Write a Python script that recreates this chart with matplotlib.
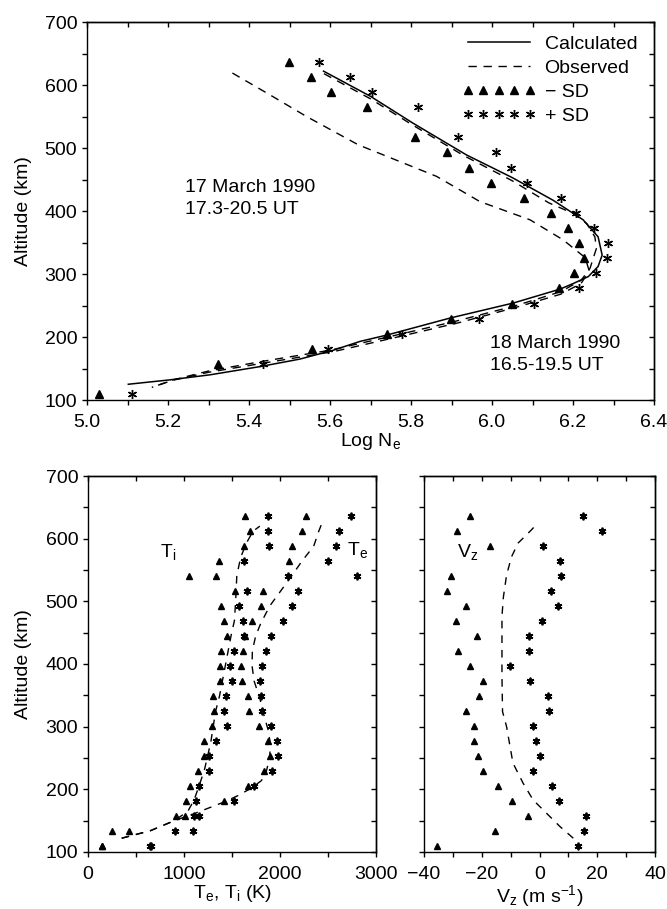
import numpy as np
import matplotlib
matplotlib.use("Agg")
import matplotlib.pyplot as plt
from matplotlib.ticker import MultipleLocator, FormatStrFormatter
from matplotlib.legend_handler import HandlerLine2D

plt.rcParams['font.family'] = ['Liberation Sans', 'DejaVu Sans']
plt.rcParams['font.size'] = 14
plt.rcParams['mathtext.fontset'] = 'custom'
plt.rcParams['mathtext.rm'] = 'Liberation Sans'
plt.rcParams['mathtext.it'] = 'Liberation Sans:italic'
plt.rcParams['axes.linewidth'] = 1.0

# ---------------- Top panel data (Log Ne vs altitude) ----------------
sd_alt_top = [110, 157, 181, 205, 229, 253, 277, 301, 325, 349, 373, 397,
              421, 445, 469, 493, 517, 565, 589, 613, 637]
ne_minus = [5.029, 5.323, 5.556, 5.741, 5.898, 6.050, 6.166, 6.202, 6.228,
            6.215, 6.188, 6.146, 6.078, 5.998, 5.942, 5.889, 5.811, 5.691,
            5.603, 5.554, 5.499]
ne_plus = [5.110, 5.434, 5.596, 5.777, 5.968, 6.104, 6.216, 6.258, 6.283,
           6.287, 6.252, 6.207, 6.170, 6.087, 6.047, 6.011, 5.917, 5.818,
           5.703, 5.649, 5.574]

calc_ne = [5.584, 5.700, 5.806, 5.937, 6.050, 6.151, 6.225, 6.262, 6.272,
           6.262, 6.238, 6.201, 6.168, 6.053, 5.896, 5.740, 5.674, 5.608,
           5.526, 5.427, 5.304, 5.205, 5.102]
calc_alt = [622, 582, 539, 489, 453, 417, 386, 359, 330, 312, 296, 285, 276,
            254, 230, 203, 193, 179, 165, 153, 140, 132, 125]

obs18_ne = [5.585, 5.700, 5.800, 5.930, 6.050, 6.140, 6.201, 6.234, 6.254,
            6.258, 6.250, 6.242, 6.220, 6.170, 6.060, 5.910, 5.750, 5.600,
            5.430, 5.300, 5.213, 5.160]
obs18_alt = [618, 578, 538, 488, 448, 413, 396, 380, 359, 341, 325, 309, 290,
             272, 250, 225, 201, 179, 161, 146, 132, 120]

obs17_ne = [5.359, 5.450, 5.542, 5.670, 5.863, 5.970, 6.094, 6.176, 6.230,
            6.240, 6.220, 6.170, 6.070, 5.920, 5.760, 5.610, 5.440, 5.300,
            5.210, 5.160]
obs17_alt = [619, 585, 550, 505, 455, 415, 386, 354, 326, 305, 285, 268, 249,
             223, 199, 177, 159, 144, 131, 120]

# ---------------- Bottom panels data ----------------
alt_grid = [110, 134, 158, 182, 206, 230, 253, 277, 301, 325, 349, 373, 397,
            421, 445, 469, 493, 517, 541, 564, 588, 612, 636]
ti_minus = [141, 246, 913, 1021, 1063, 1151, 1211, 1211, 1292, 1316, 1302,
            1379, 1379, 1386, 1446, 1421, 1386, 1530, 1057, 1362, 1630, 1686,
            1635]
ti_plus = [650, 902, 1105, 1120, 1155, 1256, 1256, 1333, 1446, 1421, 1435,
           1502, 1484, 1519, 1628, 1618, 1572, 1653, 2088, 1625, 1882, 1871,
           1878]
te_minus = [141, 432, 1007, 1421, 1667, 1832, 1895, 1870, 1786, 1672, 1670,
            1607, 1597, 1610, 1640, 1709, 1807, 1818, 1337, 2090, 2122, 2225,
            2271]
te_plus = [660, 1092, 1158, 1526, 1730, 1920, 1979, 1965, 1902, 1815, 1807,
           1793, 1811, 1857, 1909, 2028, 2123, 2186, 2797, 2504, 2586, 2615,
           2737]

ti_fit_t = [351, 650, 900, 1040, 1105, 1158, 1211, 1246, 1281, 1305, 1330,
            1370, 1400, 1430, 1460, 1490, 1525, 1535, 1541, 1550, 1590, 1650,
            1720, 1790]
ti_fit_alt = [122, 134, 150, 165, 183, 206, 230, 253, 277, 301, 325, 349, 373,
              397, 421, 445, 469, 493, 510, 541, 570, 593, 612, 620]
te_fit_t = [351, 650, 900, 1120, 1421, 1562, 1702, 1807, 1860, 1895, 1895,
            1876, 1830, 1790, 1730, 1709, 1712, 1747, 1800, 1895, 2000, 2123,
            2228, 2351, 2404, 2430]
te_fit_alt = [122, 134, 150, 162, 180, 190, 202, 214, 230, 253, 277, 295, 320,
              345, 373, 397, 421, 445, 465, 493, 515, 541, 564, 588, 612, 622]

vz_minus = [-35.4, -15.4, -4.1, -9.6, -14.2, -19.6, -21.2, -22.7, -22.7,
            -25.3, -20.8, -19.6, -23.9, -28.3, -21.5, -28.9, -25.3, -31.9,
            -30.6, np.nan, -17.3, -28.6, -24.0]
vz_plus = [13.4, 15.4, 16.2, 6.7, 4.2, -2.4, 0.1, -1.3, -2.4, 3.2, 2.9, -3.4,
           -10.1, -3.6, -3.6, 0.9, 6.3, 3.9, 7.6, 7.1, 1.3, 21.6, 15.0]
vz_fit = [11.7, 7.0, 2.4, -2.2, -5.7, -9.2, -11.4, -12.8, -13.0, -13.0, -13.0,
          -12.5, -11.4, -9.7, -7.4, -2.8, -2.0]
vz_fit_alt = [122, 141, 162, 183, 210, 242, 300, 324, 380, 421, 476, 507, 542,
              571, 593, 614, 618]

# ---------------- Figure ----------------
W, H = 667, 909
fig = plt.figure(figsize=(W / 100, H / 100), dpi=100)

def px_axes(l, t, r, b):
    return fig.add_axes([l / W, 1 - b / H, (r - l) / W, (b - t) / H])

ax1 = px_axes(87, 22, 654, 400)
ax2 = px_axes(88, 476, 376, 852)
ax3 = px_axes(424, 476, 655, 852)

TL = 3.8
tri = dict(marker='^', ms=5.5, color='black', linestyle='none')
ast = dict(marker=(6, 2, 0), ms=6.5, mew=1.0, color='black', linestyle='none')
dash_top = (0, (6, 4.8))
dash_bot = (0, (5.5, 5))

def style(ax, xlim, xmaj, xmin, ylabels=True):
    ax.set_xlim(*xlim)
    ax.set_ylim(100, 700)
    ax.xaxis.set_major_locator(MultipleLocator(xmaj))
    ax.xaxis.set_minor_locator(MultipleLocator(xmin))
    ax.yaxis.set_major_locator(MultipleLocator(100))
    ax.yaxis.set_minor_locator(MultipleLocator(50))
    ax.tick_params(which='both', direction='out', length=TL, width=1.0,
                   top=False, right=False)
    ax.tick_params(axis='x', pad=6.5)
    ax.tick_params(axis='y', pad=3.2, labelleft=ylabels)
    sx = ax.secondary_xaxis('top')
    sx.xaxis.set_major_locator(MultipleLocator(xmaj))
    sx.xaxis.set_minor_locator(MultipleLocator(xmin))
    sx.tick_params(which='both', direction='in', length=TL, width=1.0,
                   labeltop=False)
    sy = ax.secondary_yaxis('right')
    sy.yaxis.set_major_locator(MultipleLocator(100))
    sy.yaxis.set_minor_locator(MultipleLocator(50))
    sy.tick_params(which='both', direction='in', length=TL, width=1.0,
                   labelright=False)

# ---- top panel ----
style(ax1, (5.0, 6.4), 0.2, 0.1)
ax1.xaxis.set_major_formatter(FormatStrFormatter('%.1f'))
l_calc, = ax1.plot(calc_ne, calc_alt, color='black', lw=1.1)
l_obs, = ax1.plot(obs18_ne, obs18_alt, color='black', lw=1.0, linestyle=dash_top)
ax1.plot(obs17_ne, obs17_alt, color='black', lw=1.0, linestyle=dash_top)
l_m, = ax1.plot(ne_minus, sd_alt_top, **tri)
l_p, = ax1.plot(ne_plus, sd_alt_top, **ast)
ax1.text(5.242, 438, '17 March 1990', va='center', ha='left')
ax1.text(5.242, 403, '17.3-20.5 UT', va='center', ha='left')
ax1.text(5.995, 190, '18 March 1990', va='center', ha='left')
ax1.text(5.995, 154, '16.5-19.5 UT', va='center', ha='left')
ax1.set_xlabel('Log N$_\\mathrm{e}$', labelpad=0)
ax1.set_ylabel('Altitude (km)')
ax1.yaxis.set_label_coords(-0.097, 0.5)
hm = HandlerLine2D(numpoints=5, marker_pad=0)
ax1.legend([l_calc, l_obs, l_m, l_p], ['Calculated', 'Observed', '\u2212 SD', '+ SD'],
           loc='upper right', bbox_to_anchor=(0.984, 0.985), frameon=False,
           handlelength=3.2, handletextpad=0.75, labelspacing=0.32,
           borderaxespad=0.0, borderpad=0.4,
           handler_map={l_m: hm, l_p: hm})

# ---- bottom left panel ----
style(ax2, (0, 3000), 1000, 500)
ax2.plot(ti_fit_t, ti_fit_alt, color='black', lw=1.0, linestyle=dash_bot)
ax2.plot(te_fit_t, te_fit_alt, color='black', lw=1.0, linestyle=dash_bot)
ax2.plot(ti_minus, alt_grid, **dict(tri, ms=5))
ax2.plot(te_minus, alt_grid, **dict(tri, ms=5))
ax2.plot(ti_plus, alt_grid, **dict(ast, ms=5.5, mew=1.3))
ax2.plot(te_plus, alt_grid, **dict(ast, ms=5.5, mew=1.3))
ax2.text(755, 579, 'T$_\\mathrm{i}$', va='center', ha='left')
ax2.text(2700, 582, 'T$_\\mathrm{e}$', va='center', ha='left')
ax2.set_xlabel('T$_\\mathrm{e}$, T$_\\mathrm{i}$ (K)', labelpad=0)
ax2.set_ylabel('Altitude (km)')
ax2.yaxis.set_label_coords(-0.194, 0.5)

# ---- bottom right panel ----
style(ax3, (-40, 40), 20, 10, ylabels=False)
ax3.plot(vz_fit, vz_fit_alt, color='black', lw=1.0, linestyle=dash_bot)
ax3.plot(vz_minus, alt_grid, **dict(tri, ms=5))
ax3.plot(vz_plus, alt_grid, **dict(ast, ms=5.5, mew=1.3))
ax3.text(-28.4, 579, 'V$_\\mathrm{z}$', va='center', ha='left')
ax3.set_xlabel('V$_\\mathrm{z}$ (m s$^{\\mathrm{\u22121}}$)', labelpad=0)

fig.savefig('out.png', dpi=100)
